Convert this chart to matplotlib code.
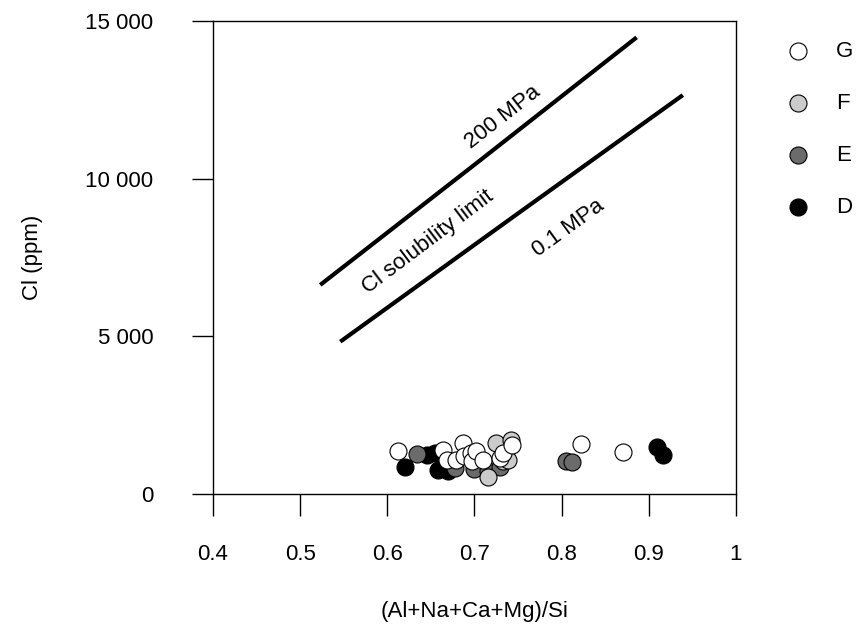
import matplotlib
matplotlib.use("Agg")
import matplotlib.pyplot as plt

plt.rcParams['font.family'] = ['Liberation Sans', 'DejaVu Sans']

# Groupes d'échantillons
d_x = [0.620, 0.645, 0.655, 0.658, 0.670, 0.909, 0.916]
d_y = [850, 1250, 1300, 770, 740, 1500, 1250]
e_x = [0.634, 0.678, 0.699, 0.716, 0.729, 0.805, 0.812]
e_y = [1270, 820, 800, 740, 850, 1050, 1020]
f_x = [0.716, 0.725, 0.733, 0.739, 0.742]
f_y = [530, 1620, 1040, 1090, 1720]
g_x = [0.612, 0.664, 0.669, 0.679, 0.687, 0.688, 0.696, 0.697, 0.702, 0.710,
       0.729, 0.733, 0.743, 0.822, 0.870]
g_y = [1370, 1395, 1090, 1090, 1610, 1200, 1300, 1040, 1350, 1090,
       1140, 1300, 1560, 1590, 1330]

# Limites de solubilité du Cl
lim200_x = [0.523, 0.705, 0.886]
lim200_y = [6630, 10550, 14480]
lim01_x = [0.546, 0.742, 0.939]
lim01_y = [4830, 8740, 12650]

x_ticks = [0.4, 0.5, 0.6, 0.7, 0.8, 0.9, 1.0]
x_labels = ['0.4', '0.5', '0.6', '0.7', '0.8', '0.9', '1']
y_ticks = [0, 5000, 10000, 15000]
y_labels = ['0', '5 000', '10 000', '15 000']

fs = 16

fig = plt.figure(figsize=(8.61, 6.30), dpi=100)
ax = fig.add_axes([0.2474, 0.2159, 0.6074, 0.7508])

ax.plot(lim200_x, lim200_y, color='black', lw=3, solid_capstyle='butt')
ax.plot(lim01_x, lim01_y, color='black', lw=3, solid_capstyle='butt')

ax.text(0.733, 11950, '200 MPa', rotation=38, ha='center', va='center', fontsize=fs)
ax.text(0.647, 8000, 'Cl solubility limit', rotation=37, ha='center', va='center', fontsize=fs)
ax.text(0.808, 8420, '0.1 MPa', rotation=36, ha='center', va='center', fontsize=fs)

groupes = [
    ('D', d_x, d_y, 'black'),
    ('E', e_x, e_y, '#6b6b6b'),
    ('F', f_x, f_y, '#cbcbcb'),
    ('G', g_x, g_y, 'white'),
]
handles = {}
for nom, xs, ys, col in groupes:
    handles[nom] = ax.scatter(xs, ys, s=150, c=col, edgecolors='black',
                              linewidths=0.8, zorder=3, label=nom)

ax.legend([handles[k] for k in ['G', 'F', 'E', 'D']], ['G', 'F', 'E', 'D'],
          loc='upper left', bbox_to_anchor=(1.059, 0.977), frameon=False,
          fontsize=fs, labelspacing=1.4, handlelength=2.0, handletextpad=0.7,
          borderaxespad=0)

ax.set_xlim(0.4, 1.0)
ax.set_ylim(0, 15000)
ax.set_xticks(x_ticks)
ax.set_xticklabels(x_labels)
ax.set_yticks(y_ticks)
ax.set_yticklabels(y_labels)
ax.tick_params(axis='x', length=16, width=1, pad=20, labelsize=fs)
ax.tick_params(axis='y', length=15, width=1, pad=28, labelsize=fs)
for sp in ax.spines.values():
    sp.set_linewidth(1)

ax.set_xlabel('(Al+Na+Ca+Mg)/Si', fontsize=fs, labelpad=26)
ax.set_ylabel('Cl (ppm)', fontsize=fs, labelpad=30)

fig.savefig('out.png', dpi=100)
